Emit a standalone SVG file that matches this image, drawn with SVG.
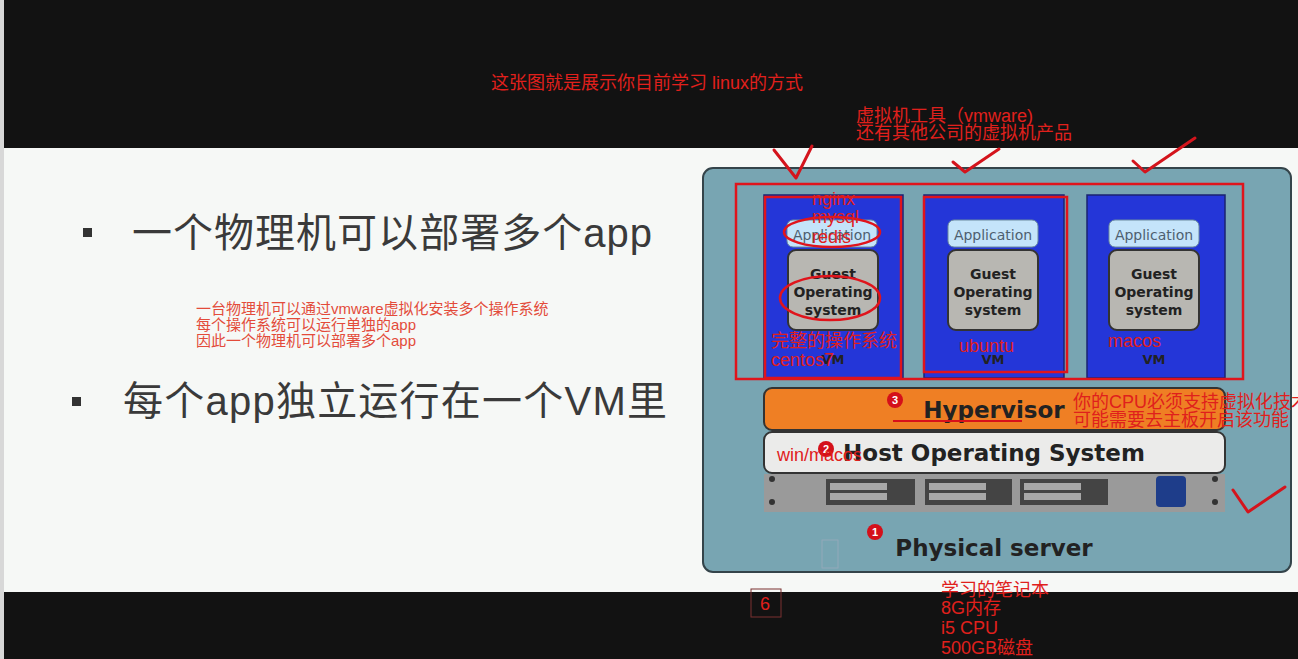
<svg xmlns="http://www.w3.org/2000/svg" width="1298" height="659" viewBox="0 0 1298 659">
<style>
.cn{font-family:"Liberation Sans","Noto Sans CJK SC",sans-serif}
.ann{font-family:"Liberation Sans","Noto Sans CJK SC",sans-serif;fill:#e0201c;font-size:18px}
.big{font-family:"Liberation Sans","Noto Sans CJK SC",sans-serif;fill:#3a3a3a;font-size:40px}
.vm{fill:#2436d8;stroke:#1a2370;stroke-width:1.5}
.app{fill:#c4e4fa;stroke:#6a8aa0;stroke-width:1}
.appt{font-family:"DejaVu Sans","Liberation Sans",sans-serif;font-size:14px;fill:#4e5f70;text-anchor:middle}
.gos{fill:#b8b7b2;stroke:#333;stroke-width:2}
.lbl{font-family:"DejaVu Sans","Liberation Sans",sans-serif;font-weight:bold;fill:#222;text-anchor:middle}
.rl{fill:none;stroke:#e0141c;stroke-width:2.5}
.chk{fill:none;stroke:#d4141c;stroke-width:3;stroke-linecap:round;stroke-linejoin:round}
.num{fill:#d4101a}
.numt{font-family:"Liberation Sans",sans-serif;font-size:11px;font-weight:bold;fill:#fff;text-anchor:middle}
</style>
<rect x="0" y="0" width="1298" height="659" fill="#121212"/>
<rect x="0" y="148" width="1298" height="444" fill="#f6f8f6"/>
<rect x="0" y="0" width="4" height="659" fill="#d8d8d8"/>

<g id="title">
<text class="ann" x="491" y="89" font-size="17">这张图就是展示你目前学习 linux的方式</text>
<text class="ann" x="856" y="122">虚拟机工具（vmware)</text>
<text class="ann" x="856" y="139">还有其他公司的虚拟机产品</text>
</g>

<g id="bullets">
<rect x="83" y="228" width="9" height="9" fill="#333"/>
<text class="big" x="132" y="247" textLength="520">一个物理机可以部署多个app</text>
<rect x="72" y="397" width="9" height="9" fill="#333"/>
<text class="big" x="123" y="415" textLength="544">每个app独立运行在一个VM里</text>
<text class="cn" x="196" y="314" font-size="15" fill="#e34b3a">一台物理机可以通过vmware虚拟化安装多个操作系统</text>
<text class="cn" x="196" y="330" font-size="15" fill="#e34b3a">每个操作系统可以运行单独的app</text>
<text class="cn" x="196" y="346" font-size="15" fill="#e34b3a">因此一个物理机可以部署多个app</text>
</g>

<g id="server">
<rect x="703" y="168" width="588" height="404" rx="10" fill="#78a5b2" stroke="#34444a" stroke-width="2"/>
</g>

<g id="vm1">
<rect class="vm" x="764" y="195" width="139" height="183"/>
<rect class="app" x="787" y="220" width="90" height="27" rx="6"/>
<text class="appt" x="832" y="240">Application</text>
<rect class="gos" x="788" y="250" width="90" height="80" rx="8"/>
<text class="lbl" x="833" y="279" font-size="14">Guest</text>
<text class="lbl" x="833" y="297" font-size="14">Operating</text>
<text class="lbl" x="833" y="315" font-size="14">system</text>
<text class="lbl" x="833" y="364" font-size="13" fill="#111a50">VM</text>
</g>
<g id="vm2">
<rect class="vm" x="924" y="195" width="140" height="183"/>
<rect class="app" x="948" y="220" width="90" height="27" rx="6"/>
<text class="appt" x="993" y="240">Application</text>
<rect class="gos" x="948" y="250" width="90" height="80" rx="8"/>
<text class="lbl" x="993" y="279" font-size="14">Guest</text>
<text class="lbl" x="993" y="297" font-size="14">Operating</text>
<text class="lbl" x="993" y="315" font-size="14">system</text>
<text class="lbl" x="993" y="364" font-size="13" fill="#111a50">VM</text>
</g>
<g id="vm3">
<rect class="vm" x="1087" y="195" width="138" height="183"/>
<rect class="app" x="1109" y="220" width="90" height="27" rx="6"/>
<text class="appt" x="1154" y="240">Application</text>
<rect class="gos" x="1109" y="250" width="90" height="80" rx="8"/>
<text class="lbl" x="1154" y="279" font-size="14">Guest</text>
<text class="lbl" x="1154" y="297" font-size="14">Operating</text>
<text class="lbl" x="1154" y="315" font-size="14">system</text>
<text class="lbl" x="1154" y="364" font-size="13" fill="#111a50">VM</text>
</g>

<g id="hypervisor">
<rect x="764" y="388" width="461" height="42" rx="8" fill="#ef7f24" stroke="#333" stroke-width="2"/>
<text class="lbl" x="994" y="418" font-size="23">Hypervisor</text>
<line x1="893" y1="421" x2="1022" y2="421" stroke="#d8101a" stroke-width="2"/>
<circle class="num" cx="895" cy="400" r="8"/><text class="numt" x="895" y="404">3</text>
</g>

<g id="hostos">
<rect x="764" y="432" width="461" height="41" rx="8" fill="#ebebea" stroke="#333" stroke-width="2"/>
<text class="lbl" x="994" y="461" font-size="23">Host Operating System</text>
<circle class="num" cx="826" cy="449" r="8"/><text class="numt" x="826" y="453">2</text>
<text class="ann" x="777" y="461" font-size="16">win/macos</text>
</g>

<g id="rack">
<rect x="764" y="474" width="461" height="38" fill="#9a9a9a"/>
<rect x="826" y="479" width="89" height="26" fill="#444"/>
<rect x="830" y="483" width="57" height="7" fill="#a8a8a8"/><rect x="830" y="493" width="57" height="7" fill="#a8a8a8"/>
<rect x="925" y="479" width="87" height="26" fill="#444"/>
<rect x="929" y="483" width="57" height="7" fill="#a8a8a8"/><rect x="929" y="493" width="57" height="7" fill="#a8a8a8"/>
<rect x="1020" y="479" width="88" height="26" fill="#444"/>
<rect x="1024" y="483" width="57" height="7" fill="#a8a8a8"/><rect x="1024" y="493" width="57" height="7" fill="#a8a8a8"/>
<rect x="1156" y="476" width="30" height="31" rx="4" fill="#1e3d8a"/>
<circle cx="772" cy="479" r="3" fill="#333"/><circle cx="772" cy="502" r="3" fill="#333"/>
<circle cx="1215" cy="479" r="3" fill="#333"/><circle cx="1215" cy="502" r="3" fill="#333"/>
</g>

<g id="physical">
<circle class="num" cx="875" cy="532" r="8"/><text class="numt" x="875" y="536">1</text>
<text class="lbl" x="994" y="556" font-size="23">Physical server</text>
<rect x="822" y="540" width="16" height="28" fill="none" stroke="#9ab" stroke-width="0.8"/>
</g>

<g id="annotations">
<rect class="rl" x="736" y="184" width="507" height="195"/>
<rect class="rl" x="765" y="197" width="136" height="181"/>
<rect class="rl" x="924" y="197" width="143" height="175"/>
<ellipse cx="832" cy="232" rx="48" ry="15" class="rl"/>
<ellipse cx="830" cy="298" rx="50" ry="22" class="rl"/>
<text class="ann" x="812" y="205" font-size="16">nginx</text>
<text class="ann" x="812" y="223" font-size="16">mysql</text>
<text class="ann" x="812" y="243" font-size="16">redis</text>
<text class="ann" x="771" y="347">完整的操作系统</text>
<text class="ann" x="771" y="366" font-size="17">centos7</text>
<text class="ann" x="959" y="352" font-size="17">ubuntu</text>
<text class="ann" x="1108" y="347" font-size="17">macos</text>
<text class="ann" x="1073" y="408">你的CPU必须支持虚拟化技术</text>
<text class="ann" x="1073" y="426">可能需要去主板开启该功能</text>
<path class="chk" d="M774,150 L796,178 L812,146"/>
<path class="chk" d="M953,162 L965,172 L999,149"/>
<path class="chk" d="M1133,161 L1145,172 L1195,138"/>
<path class="chk" d="M1233,490 L1248,512 L1285,487"/>
</g>

<g id="footer">
<rect x="751" y="589" width="30" height="28" fill="none" stroke="#7a3030" stroke-width="1"/>
<text class="ann" x="760" y="610">6</text>
<text class="ann" x="941" y="596">学习的笔记本</text>
<text class="ann" x="941" y="614">8G内存</text>
<text class="ann" x="941" y="634">i5 CPU</text>
<text class="ann" x="941" y="654">500GB磁盘</text>
</g>
</svg>
